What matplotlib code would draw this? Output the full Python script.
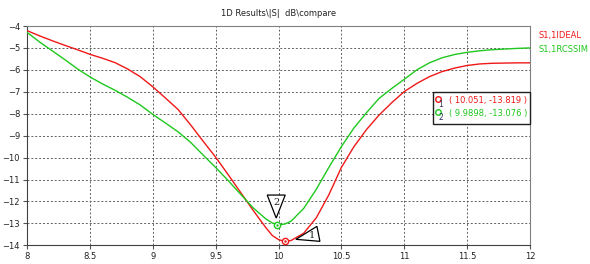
import numpy as np
import matplotlib
matplotlib.use('Agg')
import matplotlib.pyplot as plt
from matplotlib.patches import Polygon, Rectangle
from matplotlib.transforms import offset_copy

# frequency points (GHz) and S11 (dB)
freq = [8.0, 8.1, 8.2, 8.3, 8.4, 8.5, 8.6, 8.7, 8.8, 8.9,
        9.0, 9.1, 9.2, 9.3, 9.4, 9.5, 9.6, 9.7, 9.8, 9.9,
        9.95, 10.0, 10.05, 10.1, 10.2, 10.3, 10.4, 10.5, 10.6, 10.7,
        10.8, 10.9, 11.0, 11.1, 11.2, 11.3, 11.4, 11.5, 11.6, 11.7,
        11.8, 11.9, 12.0]
s11_ideal = [-4.21, -4.45, -4.67, -4.88, -5.08, -5.29, -5.47, -5.67, -5.96, -6.31,
             -6.77, -7.28, -7.80, -8.50, -9.25, -9.98, -10.78, -11.60, -12.42, -13.20,
             -13.55, -13.74, -13.82, -13.78, -13.45, -12.75, -11.70, -10.45, -9.50, -8.72,
             -8.06, -7.50, -6.99, -6.62, -6.31, -6.08, -5.92, -5.80, -5.73, -5.70,
             -5.69, -5.68, -5.68]
s11_rcssim = [-4.29, -4.73, -5.13, -5.53, -5.95, -6.32, -6.64, -6.93, -7.25, -7.60,
              -8.03, -8.42, -8.82, -9.30, -9.88, -10.45, -11.05, -11.68, -12.30, -12.80,
              -12.98, -13.07, -13.03, -12.90, -12.32, -11.45, -10.45, -9.50, -8.65, -7.95,
              -7.30, -6.85, -6.43, -6.00, -5.68, -5.45, -5.30, -5.20, -5.13, -5.08,
              -5.05, -5.02, -5.00]

names = ['S1,1IDEAL', 'S1,1RCSSIM']
marker_x = [10.051, 9.9898]
marker_y = [-13.819, -13.076]
marker_ids = ['1', '2']
colors = ['#f01818', '#1ec81e']

plt.rcParams['font.family'] = ['DejaVu Sans']
fig = plt.figure(figsize=(5.9, 2.64), dpi=100)
ax = fig.add_axes([0.0458, 0.0708, 0.8525, 0.8307])

ax.plot(freq, s11_ideal, color=colors[0], lw=1.0, zorder=3)
ax.plot(freq, s11_rcssim, color=colors[1], lw=1.0, zorder=3)

ax.set_xlim(8, 12)
ax.set_ylim(-14, -4)
ax.set_xticks(np.arange(8, 12.01, 0.5))
ax.set_xticklabels(['8', '8.5', '9', '9.5', '10', '10.5', '11', '11.5', '12'])
ax.set_yticks(np.arange(-14, -3.9, 1))
ax.tick_params(labelsize=6, length=3, width=0.8, color='#555555', pad=2, labelcolor='#222222')
ax.grid(True, color='#606060', linestyle=(0, (2, 2)), linewidth=0.7)
for s in ax.spines.values():
    s.set_color('#808080')
    s.set_linewidth(0.8)
ax.spines['left'].set_color('#404040')
ax.spines['bottom'].set_color('#404040')

ax.set_title('1D Results\\|S|  dB\\compare', fontsize=6, pad=7, color='#222222')

# curve names right of the plot
for i, n in enumerate(names):
    fig.text(0.912, 0.866 - i * 0.052, n, color=colors[i], fontsize=6, ha='left', va='center')

# markers on the curves
for i in range(2):
    ax.plot(marker_x[i], marker_y[i], 'o', ms=4.5, mfc='white', mec=colors[i], mew=1.0, zorder=5)
    ax.plot(marker_x[i], marker_y[i], '.', ms=1.5, color=colors[i], zorder=6)

# marker flags (shapes in pixel offsets from each marker)
flags = {
    '1': [(11, 2), (32, 15), (35, 0)],
    '2': [(-10, 30), (8, 30), (-1, 7)],
}
label_off = {'1': (27, 6), '2': (-1, 23)}
for i, mid in enumerate(marker_ids):
    pts = ax.transData.transform((marker_x[i], marker_y[i]))
    verts = [ax.transData.inverted().transform((pts[0] + dx, pts[1] + dy)) for dx, dy in flags[mid]]
    ax.add_patch(Polygon(verts, closed=True, fc='white', ec='black', lw=0.9, zorder=7))
    tr = offset_copy(ax.transData, fig=fig, x=label_off[mid][0], y=label_off[mid][1], units='dots')
    ax.text(marker_x[i], marker_y[i], mid, transform=tr, fontsize=7, ha='center', va='center',
            color='#222222', zorder=8, family='DejaVu Serif')

# marker readout box
ax.add_patch(Rectangle((0.8066, 0.552), 0.1934, 0.148, transform=ax.transAxes, fc='white',
                       ec='#202020', lw=1.0, zorder=9, clip_on=False))
for i in range(2):
    yy = 0.659 - i * 0.059
    ax.plot(0.818, yy + 0.006, 'o', ms=4, mfc='white', mec=colors[i], mew=1.0,
            transform=ax.transAxes, zorder=10, clip_on=False)
    ax.text(0.823, yy - 0.016, marker_ids[i], transform=ax.transAxes, fontsize=5.5,
            color='#303060', ha='center', va='center', zorder=10)
    ax.text(0.838, yy, '( %s, %s )' % (('10.051', '9.9898')[i], ('-13.819', '-13.076')[i]),
            transform=ax.transAxes, fontsize=6, color=colors[i], ha='left', va='center', zorder=10)

fig.savefig('out.png', dpi=100)
